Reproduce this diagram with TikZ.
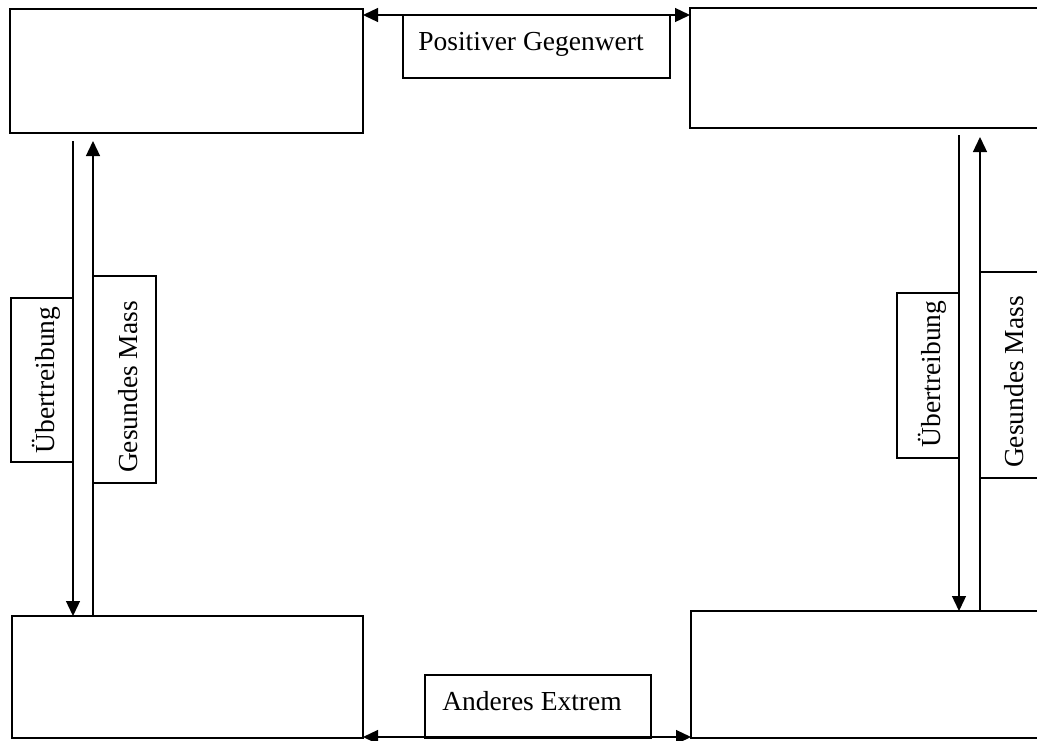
\documentclass[tikz,border=0pt]{standalone}
\usepackage{fontspec}
\setmainfont{Liberation Serif}
\usetikzlibrary{arrows.meta}
\tikzset{
  bigbox/.style={draw, line width=1.3pt, anchor=north west, inner sep=0pt, outer sep=0pt},
  lblbox/.style={draw, line width=1.2pt, anchor=north west, inner sep=0pt, outer sep=0pt},
  txt/.style={font=\fontsize{27.5}{32}\selectfont, inner sep=0pt},
  vtxt/.style={txt, rotate=90, anchor=base},
  conn/.style={line width=1.3pt, -{Triangle[length=15pt,width=14pt]}},
  bconn/.style={line width=1.3pt, {Triangle[length=15pt,width=14pt]}-{Triangle[length=15pt,width=14pt]}}
}
\begin{document}
\begin{tikzpicture}[x=1pt,y=-1pt]
\useasboundingbox (0,0) rectangle (1037,740);
\clip (0,0) rectangle (1037,740);
% corner boxes
\node[bigbox, minimum width=353pt, minimum height=124pt] (tl) at (10,9) {};
\node[bigbox, minimum width=370pt, minimum height=120pt] (tr) at (690,8) {};
\node[bigbox, minimum width=351pt, minimum height=122pt] (bl) at (12,616) {};
\node[bigbox, minimum width=370pt, minimum height=127pt] (br) at (691,611) {};
% label boxes top/bottom
\node[lblbox, minimum width=267pt, minimum height=63pt] (pgbox) at (403,15) {};
\node[txt, anchor=base] (pg) at (531,50) {Positiver Gegenwert};
\node[lblbox, minimum width=226pt, minimum height=63pt] (aebox) at (425,675) {};
\node[txt, anchor=base] (ae) at (532,710) {Anderes Extrem};
% horizontal connectors
\draw[bconn] ([yshift=-6pt]tl.north east) -- ([yshift=-7pt]tr.north west);
\draw[bconn] ([yshift=1pt]bl.south east) -- ([yshift=1pt]br.south west);
% left vertical connectors
\draw[conn] ([xshift=63pt,yshift=-8pt]tl.south west) -- ([xshift=61pt]bl.north west);
\draw[conn] ([xshift=81pt]bl.north west) -- ([xshift=83pt,yshift=-8pt]tl.south west);
% right vertical connectors
\draw[conn] ([xshift=269pt,yshift=-7pt]tr.south west) -- ([xshift=268pt]br.north west);
\draw[conn] ([xshift=289pt]br.north west) -- ([xshift=290pt,yshift=-9pt]tr.south west);
% left labels
\node[lblbox, minimum width=62pt, minimum height=164pt] (lubox) at (11,298) {};
\node[vtxt] (lu) at (54,380) {Übertreibung};
\node[lblbox, minimum width=63pt, minimum height=207pt] (lgbox) at (93,276) {};
\node[vtxt] (lg) at (137,387) {Gesundes Mass};
% right labels
\node[lblbox, minimum width=62pt, minimum height=165pt] (rubox) at (897,293) {};
\node[vtxt] (ru) at (940,374) {Übertreibung};
\node[lblbox, minimum width=80pt, minimum height=206pt] (rgbox) at (980,272) {};
\node[vtxt] (rg) at (1023,382) {Gesundes Mass};
\end{tikzpicture}
\end{document}
